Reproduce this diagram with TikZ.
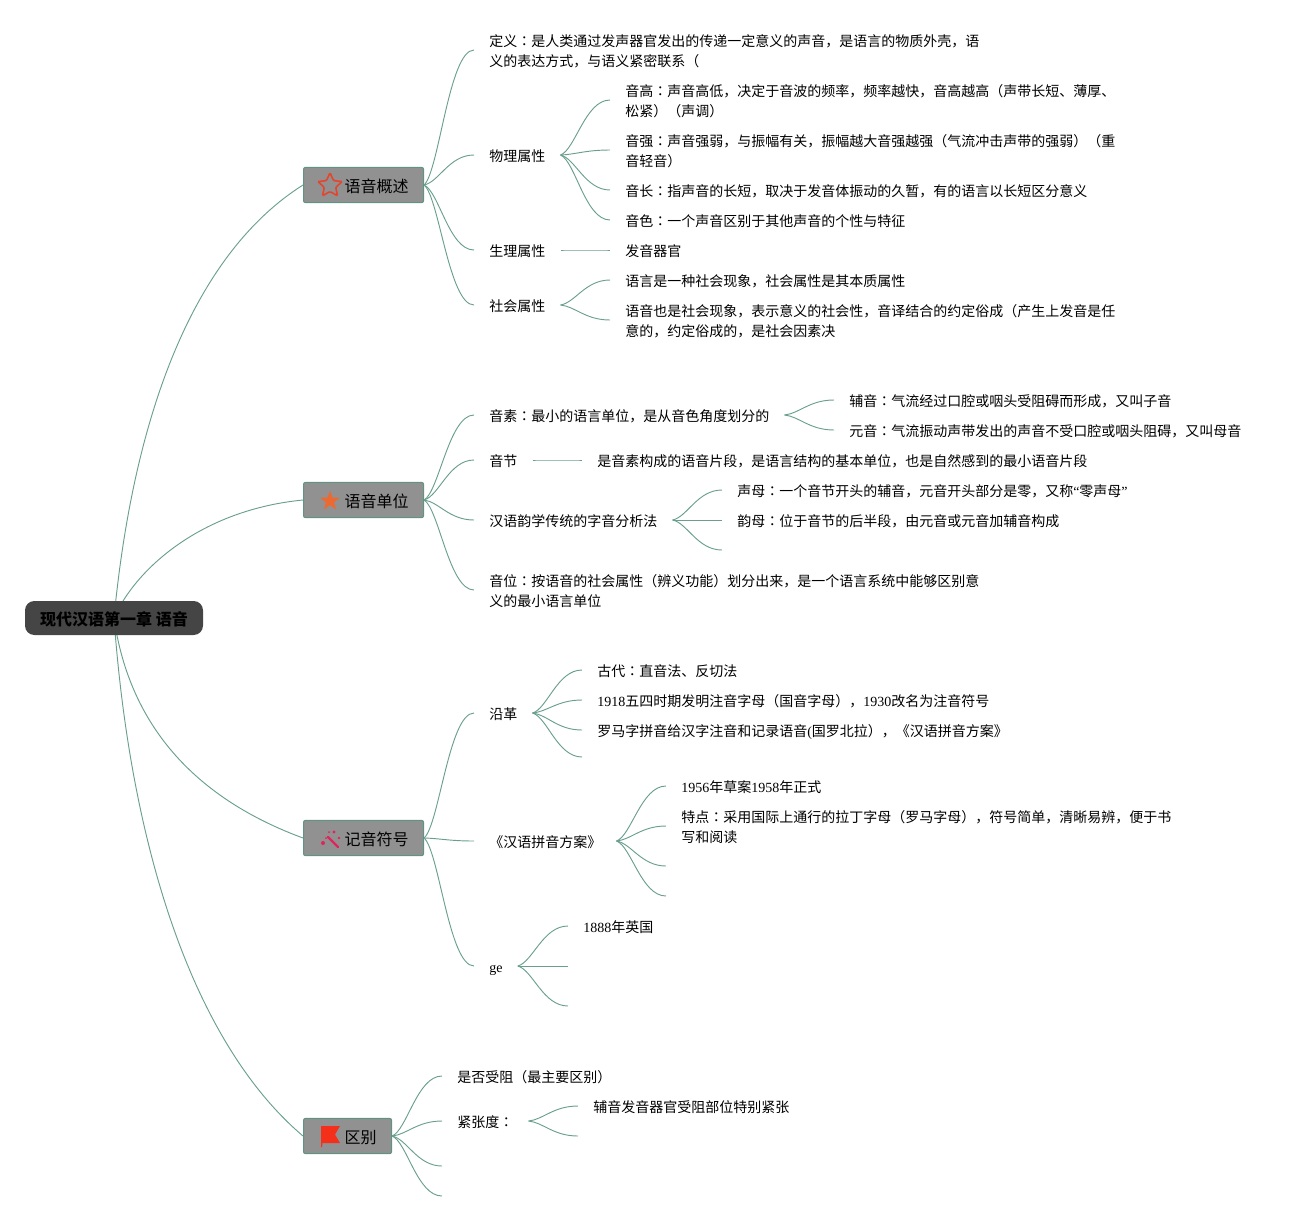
\documentclass[tikz,border=0pt]{standalone}
\usepackage{fontspec}
\setmainfont{Noto Sans CJK SC}
\newfontfamily\latfont{Liberation Serif}
\newfontfamily\jpfont{Noto Sans CJK JP}
\usetikzlibrary{calc, backgrounds, shapes.geometric}
\definecolor{mmlink}{HTML}{6A9F8F}
\definecolor{mmedge}{HTML}{5F9484}
\definecolor{mmgray}{HTML}{919191}
\definecolor{mmdark}{HTML}{454545}
\definecolor{mmred}{HTML}{E4452F}
\definecolor{mmorange}{HTML}{EB6A33}
\definecolor{mmpink}{HTML}{E0245E}
\definecolor{mmflag}{HTML}{F5301A}
\newcommand{\lat}[1]{{\latfont #1}}
\newcommand{\cmark}{{\jpfont ：}}
\newcommand{\topline}{\rule{0pt}{11pt}}
% one sideways curve from a parent to a child
\newcommand{\linkto}[2]{\draw[link] let \p1=(#1), \p2=(#2) in (\p1) .. controls ({\x1+.3*(\x2-\x1)},{\y1+.1*(\y2-\y1)}) and ({\x1+.5*(\x2-\x1)},\y2) .. (\p2);}

\begin{document}
\begin{tikzpicture}[
  x=0.75pt, y=-0.75pt,
  every node/.style={font=\fontsize{10.5pt}{15pt}\selectfont, text=black},
  link/.style={draw=mmlink, line width=0.7pt},
  lowered/.style={execute at begin node={\rule{0pt}{#1}}, execute at end node={\rule[-2.5pt]{0pt}{2.5pt}}},
  rootbox/.style={rectangle, rounded corners=7pt, fill=mmdark, minimum width=133.5pt, minimum height=25.5pt, inner sep=0pt, text=black, lowered=13pt, font=\fontsize{12pt}{15pt}\selectfont\bfseries},
  branchbox/.style={rectangle, rounded corners=1.5pt, draw=mmedge, fill=mmgray, line width=0.8pt, minimum height=26.5pt, inner xsep=11.25pt, inner ysep=0pt, anchor=west, lowered=13pt, font=\fontsize{12pt}{15pt}\selectfont},
  leaftwo/.style={anchor=west, align=left, inner xsep=11.25pt, inner ysep=0pt},
  leaf/.style={leaftwo, lowered=12pt},
]
\useasboundingbox (0,0) rectangle (1301,1221);

\node[rootbox] (root) at (114,618) {现代汉语第一章 语音};

\node[branchbox] (gaishu) at (303,185) {\hspace*{19.5pt}语音概述};
\node[branchbox] (danwei) at (303,500) {\hspace*{19.5pt}语音单位};
\node[branchbox] (fuhao) at (303,838) {\hspace*{19.5pt}记音符号};
\node[branchbox] (qubie) at (303,1136) {\hspace*{19.5pt}区别};

% icons
\node[star, star points=5, star point ratio=2.1, draw=mmred, line width=1.2pt, rounded corners=0.8pt, minimum size=19pt, inner sep=0pt] (staropen) at (330,185.5) {};
\node[star, star points=5, star point ratio=2.4, fill=mmorange, minimum size=15.5pt, inner sep=0pt] (starfull) at (330,501) {};
\draw[mmpink, line width=1.7pt, line cap=round] (328,837) -- (338,847);
\fill[mmpink] (323,843) circle (2) (334,832) circle (1.7) (339,838) circle (1.3) (329,832) circle (1) (326,838) circle (1);
\fill[mmflag] (321,1126) -- (340,1126) -- (335,1134.5) -- (340,1143) -- (322.5,1143) -- (322,1147) -- (321,1147) -- cycle;

% root to branches
\begin{scope}[on background layer]
\draw[link] (root.center) .. controls +(21,-218) and +(-103,65) .. (gaishu.west);
\draw[link] (root.center) .. controls +(21,-48) and +(-103,10) .. (danwei.west);
\draw[link] (root.center) .. controls +(16,112) and +(-103,-38) .. (fuhao.west);
\draw[link] (root.center) .. controls +(16,222) and +(-113,-96) .. (qubie.west);
\end{scope}

% first branch
\node[leaftwo] (dingyi) at (474,50) {\topline 定义\cmark 是人类通过发声器官发出的传递一定意义的声音，是语言的物质外壳，语\\义的表达方式，与语义紧密联系（};
\node[leaf] (wuli) at (474,155) {物理属性};
\node[leaf] (shengli) at (474,250) {生理属性};
\node[leaf] (shehui) at (474,305) {社会属性};
\node[leaftwo] (yingao) at (610,100) {\topline 音高\cmark 声音高低，决定于音波的频率，频率越快，音高越高（声带长短、薄厚、\\松紧）（声调）};
\node[leaftwo] (yinqiang) at (610,150) {\topline 音强\cmark 声音强弱，与振幅有关，振幅越大音强越强（气流冲击声带的强弱）（重\\音轻音）};
\node[leaf] (yinchang) at (610,190) {音长\cmark 指声音的长短，取决于发音体振动的久暂，有的语言以长短区分意义};
\node[leaf] (yinse) at (610,220) {音色\cmark 一个声音区别于其他声音的个性与特征};
\node[leaf] (qiguan) at (610,250) {发音器官};
\node[leaf] (shehuia) at (610,280) {语言是一种社会现象，社会属性是其本质属性};
\node[leaftwo] (shehuib) at (610,320) {\topline 语音也是社会现象，表示意义的社会性，音译结合的约定俗成（产生上发音是任\\意的，约定俗成的，是社会因素决};
\linkto{gaishu.east}{dingyi.west}
\linkto{gaishu.east}{wuli.west}
\linkto{gaishu.east}{shengli.west}
\linkto{gaishu.east}{shehui.west}
\linkto{wuli.east}{yingao.west}
\linkto{wuli.east}{yinqiang.west}
\linkto{wuli.east}{yinchang.west}
\linkto{wuli.east}{yinse.west}
\linkto{shengli.east}{qiguan.west}
\linkto{shehui.east}{shehuia.west}
\linkto{shehui.east}{shehuib.west}

% second branch
\node[leaf] (yinsu) at (474,415) {音素\cmark 最小的语言单位，是从音色角度划分的};
\node[leaf] (yinjie) at (474,460) {音节};
\node[leaf] (fenxi) at (474,520) {汉语韵学传统的字音分析法};
\node[leaftwo] (yinwei) at (474,590) {\topline 音位\cmark 按语音的社会属性（辨义功能）划分出来，是一个语言系统中能够区别意\\义的最小语言单位};
\node[leaf] (fuyin) at (834,400) {辅音\cmark 气流经过口腔或咽头受阻碍而形成，又叫子音};
\node[leaf] (yuanyin) at (834,430) {元音\cmark 气流振动声带发出的声音不受口腔或咽头阻碍，又叫母音};
\node[leaf] (pianduan) at (582,460) {是音素构成的语音片段，是语言结构的基本单位，也是自然感到的最小语音片段};
\node[leaf] (shengmu) at (722,490) {声母\cmark 一个音节开头的辅音，元音开头部分是零，又称\lat{“}零声母\lat{”}};
\node[leaf] (yunmu) at (722,520) {韵母\cmark 位于音节的后半段，由元音或元音加辅音构成};
\coordinate (fenxic) at (722,550);
\linkto{danwei.east}{yinsu.west}
\linkto{danwei.east}{yinjie.west}
\linkto{danwei.east}{fenxi.west}
\linkto{danwei.east}{yinwei.west}
\linkto{yinsu.east}{fuyin.west}
\linkto{yinsu.east}{yuanyin.west}
\linkto{yinjie.east}{pianduan.west}
\linkto{fenxi.east}{shengmu.west}
\linkto{fenxi.east}{yunmu.west}
\linkto{fenxi.east}{fenxic}

% third branch
\node[leaf] (yange) at (474,713) {沿革};
\node[leaf] (fangan) at (474,841) {《汉语拼音方案》};
\node[leaf] (ge) at (474,966) {\lat{ge}};
\node[leaf] (gudai) at (582,670) {古代\cmark 直音法、反切法};
\node[leaf] (wusi) at (582,700) {\lat{1918}五四时期发明注音字母（国音字母），\lat{1930}改名为注音符号};
\node[leaf] (luoma) at (582,730) {罗马字拼音给汉字注音和记录语音\lat{(}国罗北拉），《汉语拼音方案》};
\coordinate (yangec) at (582,757);
\node[leaf] (caoan) at (666,786) {\lat{1956}年草案\lat{1958}年正式};
\node[leaftwo] (tedian) at (666,826) {\topline 特点\cmark 采用国际上通行的拉丁字母（罗马字母），符号简单，清晰易辨，便于书\\写和阅读};
\coordinate (fanganc) at (666,866);
\coordinate (fangand) at (666,896);
\node[leaf] (yingguo) at (568,926) {\lat{1888}年英国};
\coordinate (geb) at (568,966);
\coordinate (gec) at (568,1006);
\linkto{fuhao.east}{yange.west}
\linkto{fuhao.east}{fangan.west}
\linkto{fuhao.east}{ge.west}
\linkto{yange.east}{gudai.west}
\linkto{yange.east}{wusi.west}
\linkto{yange.east}{luoma.west}
\linkto{yange.east}{yangec}
\linkto{fangan.east}{caoan.west}
\linkto{fangan.east}{tedian.west}
\linkto{fangan.east}{fanganc}
\linkto{fangan.east}{fangand}
\linkto{ge.east}{yingguo.west}
\linkto{ge.east}{geb}
\linkto{ge.east}{gec}

% fourth branch
\node[leaf] (shouzu) at (442,1076) {是否受阻（最主要区别）};
\node[leaf] (jinzhang) at (442,1121) {紧张度\cmark};
\coordinate (qubiec) at (442,1166);
\coordinate (qubied) at (442,1196);
\node[leaf] (jinzhanga) at (578,1106) {辅音发音器官受阻部位特别紧张};
\coordinate (jinzhangb) at (578,1136);
\linkto{qubie.east}{shouzu.west}
\linkto{qubie.east}{jinzhang.west}
\linkto{qubie.east}{qubiec}
\linkto{qubie.east}{qubied}
\linkto{jinzhang.east}{jinzhanga.west}
\linkto{jinzhang.east}{jinzhangb}

\end{tikzpicture}
\end{document}
